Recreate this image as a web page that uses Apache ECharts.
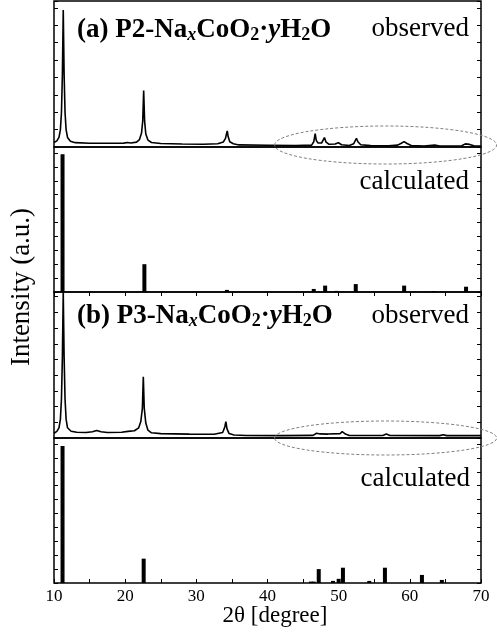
<!DOCTYPE html>
<html>
<head>
<meta charset="utf-8">
<script src="https://cdn.jsdelivr.net/npm/echarts@6/dist/echarts.min.js"></script>
<style>
html,body{margin:0;padding:0;background:#fff}
#main{width:497px;height:635px}
</style>
</head>
<body>
<div id="main"></div>
<script>
(function(){

var SERIF = '"Liberation Serif", "Times New Roman", serif';

// (a) P2 observed pattern, 2theta / intensity (counts, a.u.)
var obsA_x = [10.0,10.4,10.7,10.9,11.05,11.18,11.3,11.42,11.55,11.7,11.9,12.3,13.0,15.0,18.0,19.8,20.3,20.8,21.6,22.0,22.3,22.47,22.6,22.73,22.9,23.2,23.7,25.0,28.0,31.0,33.0,33.8,34.1,34.25,34.35,34.47,34.7,35.2,36.0,40.0,44.0,46.2,46.5,46.7,46.85,47.1,47.6,47.85,48.0,48.2,48.6,49.5,49.96,50.4,51.5,52.1,52.35,52.5,52.7,53.1,54.5,57.0,58.3,58.8,59.2,59.6,60.2,62.0,63.5,64.2,67.3,67.8,68.0,68.4,69.0,70.0];
var obsA_y = [260,350,550,1000,2000,4200,7880,4200,2000,1000,550,330,250,220,215,225,260,230,280,420,800,1500,3250,1500,750,400,260,200,170,160,190,290,500,780,930,600,300,190,120,100,80,110,300,770,380,230,230,420,540,300,160,170,250,130,90,180,380,500,300,130,80,70,110,220,310,200,90,60,115,60,70,180,215,150,70,60];

// (a) calculated reflections
var calcA_x = [11.2,22.7,34.3,46.5,48.1,49.7,52.4,59.2,63.3,67.9];
var calcA_y = [99,20,1.5,2.2,4.6,0.8,5.7,4.6,0.7,3.8];

// (b) P3 observed pattern
var obsB_x = [10.0,10.4,10.7,10.9,11.05,11.18,11.3,11.42,11.55,11.7,11.9,12.4,13.2,14.5,15.4,16.0,16.6,17.5,19.5,20.4,21.3,21.9,22.2,22.42,22.55,22.68,22.9,23.2,23.7,25.0,29.0,32.5,33.7,34.0,34.15,34.3,34.6,35.3,37.0,42.0,46.4,46.9,47.1,47.4,48.5,50.2,50.5,50.7,50.95,51.5,56.2,56.7,57.2,64.2,64.7,65.2,70.0];
var obsB_y = [300,420,650,1200,2500,5200,9300,5200,2500,1200,650,430,370,350,400,480,400,350,370,420,460,650,1050,1900,3900,1900,950,500,330,280,250,240,350,700,1040,600,280,190,160,150,170,300,340,260,250,280,400,460,250,160,160,250,160,150,210,150,150];

// (b) calculated reflections
var calcB_x = [11.2,22.6,46.1,46.5,47.2,49.2,50.0,50.6,54.3,56.5,61.7,64.5];
var calcB_y = [98.6,17.5,1,1,10,1.5,3,11,1.5,11,5.8,2.2];

var xLabels = [10,20,30,40,50,60,70];

// panel layout
var panelTop = [1,147,292,438];
var panelH = [146,145,146,145];
var yMax = [8400,104.3,9300,104.3];
var yStep = [1000,10,1000,10];

function zip(a,b){
    var r = [];
    for(var i = 0; i < a.length; i++) r.push([a[i], b[i]]);
    return r;
}

var chart = echarts.init(document.getElementById('main'));

var grids = [], xAxes = [], yAxes = [];
for(var i = 0; i < 4; i++){
    grids.push({left:54, width:427, top:panelTop[i], height:panelH[i], show:true,
        borderColor:'#000', borderWidth:1.5, backgroundColor:'transparent'});
    xAxes.push({
        type:'value', gridIndex:i, min:10, max:70, interval:5,
        axisLine:{show:false}, splitLine:{show:false},
        axisTick:{show: i == 1 || i == 3, inside: i == 3, length:4, lineStyle:{color:'#000', width:1}},
        axisLabel:{show: i == 3, color:'#000', fontFamily:SERIF, fontSize:17, margin:5,
            formatter:function(v){ return xLabels.indexOf(v) >= 0 ? String(v) : ''; }}
    });
    ['left','right'].forEach(function(pos){
        yAxes.push({
            type:'value', gridIndex:i, position:pos, min:0, max:yMax[i], interval:yStep[i],
            axisLine:{show:false}, splitLine:{show:false}, axisLabel:{show:false},
            axisTick:{show:true, inside:true, length:4, lineStyle:{color:'#000', width:1}}
        });
    });
}

var option = {
    animation:false,
    backgroundColor:'#fff',
    grid:grids,
    xAxis:xAxes,
    yAxis:yAxes,
    series:[
        {type:'line', xAxisIndex:0, yAxisIndex:0, data:zip(obsA_x,obsA_y), showSymbol:false,
            lineStyle:{color:'#000', width:1.6}},
        {type:'bar', xAxisIndex:1, yAxisIndex:2, data:zip(calcA_x,calcA_y), barWidth:4,
            itemStyle:{color:'#000'}},
        {type:'line', xAxisIndex:2, yAxisIndex:4, data:zip(obsB_x,obsB_y), showSymbol:false,
            lineStyle:{color:'#000', width:1.6}},
        {type:'bar', xAxisIndex:3, yAxisIndex:6, data:zip(calcB_x,calcB_y), barWidth:4,
            itemStyle:{color:'#000'}}
    ]
};
chart.setOption(option);

// text helpers: place by alphabetic baseline
var ctx2d = document.createElement('canvas').getContext('2d');
function fontStr(size, bold, italic){
    return (italic ? 'italic ' : '') + (bold ? 'bold ' : '') + size + 'px ' + SERIF;
}
function baseOff(font){
    ctx2d.font = font;
    ctx2d.textBaseline = 'middle';
    return ctx2d.measureText('H').actualBoundingBoxDescent;
}
function textAt(str, x, baseY, font, align){
    return {type:'text', x:x, y:baseY - baseOff(font), z:10,
        style:{text:str, font:font, fill:'#000', align:align, verticalAlign:'middle',
            textAlign:align, textVerticalAlign:'middle'}};
}
function formula(pieces, x, baseY){
    var els = [], cx = x;
    pieces.forEach(function(p){
        var f = fontStr(p.sub ? 18 : 27, p.b, p.i);
        ctx2d.font = f;
        var w = ctx2d.measureText(p.t).width;
        els.push(textAt(p.t, cx, baseY + (p.sub ? 3 : 0), f, 'left'));
        cx += w;
    });
    return els;
}
function sample(tag){
    return [{t:'(' + tag + ') ' + (tag == 'a' ? 'P2' : 'P3') + '-Na', b:1}, {t:'x', b:1, i:1, sub:1},
        {t:'CoO', b:1}, {t:'2', b:1, sub:1}, {t:'\u00b7', b:1}, {t:'y', b:1, i:1},
        {t:'H', b:1}, {t:'2', b:1, sub:1}, {t:'O', b:1}];
}

var g = [];
g = g.concat(formula(sample('a'), 77, 36.5));
g = g.concat(formula(sample('b'), 77, 323));
var reg = fontStr(27, false, false);
g.push(textAt('observed', 469, 36, reg, 'right'));
g.push(textAt('calculated', 469, 189, reg, 'right'));
g.push(textAt('observed', 469, 323, reg, 'right'));
g.push(textAt('calculated', 470, 486, reg, 'right'));
g.push(textAt('2\u03b8 [degree]', 275, 622, fontStr(23, false, false), 'center'));
g.push({type:'text', x:22, y:287, rotation:Math.PI/2, z:10,
    style:{text:'Intensity (a.u.)', font:reg, fill:'#000', align:'center', verticalAlign:'middle',
        textAlign:'center', textVerticalAlign:'middle'}});

// dashed ellipses marking the high-angle region
function ellipse(gridIdx, cDeg, halfDeg, yVal, ry){
    var c = chart.convertToPixel({gridIndex:gridIdx}, [cDeg, yVal]);
    var e = chart.convertToPixel({gridIndex:gridIdx}, [cDeg + halfDeg, yVal]);
    return {type:'ellipse', z:9, shape:{cx:c[0], cy:c[1], rx:e[0] - c[0], ry:ry},
        style:{fill:'none', stroke:'#808080', lineWidth:1, lineDash:[3,2]}};
}
g.push(ellipse(0, 56.6, 15.6, 115, 19));
g.push(ellipse(2, 56.6, 15.6, 0, 17));

chart.setOption({graphic:g});

})();
</script>
</body>
</html>
